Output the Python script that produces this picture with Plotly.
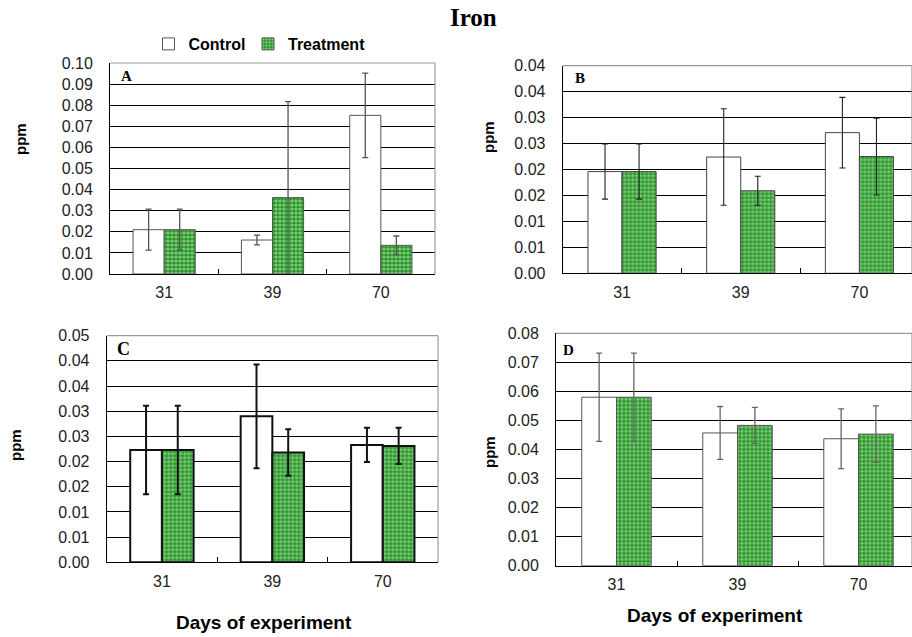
import plotly.graph_objects as go

W, H = 912, 637

days = ["31", "39", "70"]

# Panel A
a_control = [0.0210, 0.0161, 0.0752]
a_control_err = [0.0097, 0.0023, 0.0200]
a_treat = [0.0210, 0.0362, 0.0136]
a_treat_err = [0.0097, 0.0455, 0.0044]
a_treat_err_minus = [0.0097, 0.0362, 0.0044]
a_ticks = [0.00, 0.01, 0.02, 0.03, 0.04, 0.05, 0.06, 0.07, 0.08, 0.09, 0.10]
a_ticktext = ["0.00", "0.01", "0.02", "0.03", "0.04", "0.05", "0.06", "0.07", "0.08", "0.09", "0.10"]

# Panel B
b_control = [0.0196, 0.0224, 0.0271]
b_control_err = [0.0053, 0.0093, 0.0068]
b_treat = [0.0196, 0.0159, 0.0225]
b_treat_err = [0.0053, 0.0028, 0.0074]
b_ticks = [0.000, 0.005, 0.010, 0.015, 0.020, 0.025, 0.030, 0.035, 0.040]
b_ticktext = ["0.00", "0.01", "0.01", "0.02", "0.02", "0.03", "0.03", "0.04", "0.04"]

# Panel C
c_control = [0.0223, 0.0290, 0.0233]
c_control_err = [0.0088, 0.0103, 0.0034]
c_treat = [0.0223, 0.0218, 0.0231]
c_treat_err = [0.0088, 0.0046, 0.0036]
c_ticks = [0.000, 0.005, 0.010, 0.015, 0.020, 0.025, 0.030, 0.035, 0.040, 0.045]
c_ticktext = ["0.00", "0.01", "0.01", "0.02", "0.02", "0.03", "0.03", "0.04", "0.04", "0.05"]

# Panel D
d_control = [0.0580, 0.0457, 0.0437]
d_control_err = [0.0152, 0.0091, 0.0103]
d_treat = [0.0580, 0.0483, 0.0453]
d_treat_err = [0.0152, 0.0062, 0.0097]
d_ticks = [0.00, 0.01, 0.02, 0.03, 0.04, 0.05, 0.06, 0.07, 0.08]
d_ticktext = ["0.00", "0.01", "0.02", "0.03", "0.04", "0.05", "0.06", "0.07", "0.08"]


def px(x):
    return x / W


def py(y):
    return 1 - y / H


GREEN_DARK = "#279827"
GREEN_LIGHT = "#e4f6dc"
SANS = "Arial, Liberation Sans, Helvetica, sans-serif"
SERIF = "Times New Roman, Liberation Serif, serif"

fig = go.Figure()

panels = [
    dict(ax="", ctrl=a_control, ce=a_control_err, cem=a_control_err, trt=a_treat, te=a_treat_err,
         tem=a_treat_err_minus, ticks=a_ticks, tt=a_ticktext, xdom=[px(110), px(435)],
         ydom=[py(274), py(63)], xr=[-0.5, 2.5], ecol="#555555", eth=1.3, lcol="#555555", lw=1,
         legend=True),
    dict(ax="2", ctrl=b_control, ce=b_control_err, cem=b_control_err, trt=b_treat, te=b_treat_err,
         tem=b_treat_err, ticks=b_ticks, tt=b_ticktext, xdom=[px(562.7), 1.0],
         ydom=[py(273.3), py(65.7)], xr=[-0.5, 2.443], ecol="#222222", eth=1.1, lcol="#444444", lw=1,
         legend=False),
    dict(ax="3", ctrl=c_control, ce=c_control_err, cem=c_control_err, trt=c_treat, te=c_treat_err,
         tem=c_treat_err, ticks=c_ticks, tt=c_ticktext, xdom=[px(106.7), px(438)],
         ydom=[py(562.3), py(335.7)], xr=[-0.5, 2.5], ecol="#111111", eth=2, lcol="#111111", lw=2,
         legend=False),
    dict(ax="4", ctrl=d_control, ce=d_control_err, cem=d_control_err, trt=d_treat, te=d_treat_err,
         tem=d_treat_err, ticks=d_ticks, tt=d_ticktext, xdom=[px(556), 1.0],
         ydom=[py(565.7), py(333.3)], xr=[-0.5, 2.442], ecol="#666666", eth=1.3, lcol="#555555", lw=1,
         legend=False),
]

layout_axes = {}
shapes = []
for p in panels:
    xa = "x" + p["ax"]
    ya = "y" + p["ax"]
    fig.add_trace(go.Bar(
        x=days, y=p["ctrl"], name="Control", xaxis=xa, yaxis=ya,
        marker=dict(color="white", line=dict(color=p["lcol"], width=p["lw"])),
        error_y=dict(type="data", array=p["ce"], arrayminus=p["cem"], symmetric=False,
                     color=p["ecol"], thickness=p["eth"], width=3),
        showlegend=p["legend"], legend="legend",
    ))
    fig.add_trace(go.Bar(
        x=days, y=p["trt"], name="Treatment", xaxis=xa, yaxis=ya,
        marker=dict(color=GREEN_DARK, line=dict(color=p["lcol"], width=p["lw"]),
                    pattern=dict(shape=".", fgcolor=GREEN_LIGHT, bgcolor=GREEN_DARK, size=4,
                                 solidity=0.5)),
        error_y=dict(type="data", array=p["te"], arrayminus=p["tem"], symmetric=False,
                     color=p["ecol"], thickness=p["eth"], width=3),
        showlegend=p["legend"], legend="legend2",
    ))
    xkey = "xaxis" + p["ax"]
    ykey = "yaxis" + p["ax"]
    layout_axes[xkey] = dict(
        domain=p["xdom"], anchor=ya, range=p["xr"], type="category", automargin=False,
        showline=True, linecolor="black", linewidth=1,
        ticks="inside", tickson="boundaries", ticklen=5, tickcolor="black", tickwidth=1,
        showgrid=False, zeroline=False,
        tickfont=dict(family=SANS, size=16, color="#222222"),
        ticklabelstandoff=4,
    )
    layout_axes[ykey] = dict(
        domain=p["ydom"], anchor=xa, range=[0, p["ticks"][-1]], automargin=False,
        tickmode="array", tickvals=p["ticks"], ticktext=p["tt"],
        showline=True, linecolor="black", linewidth=1,
        showgrid=True, gridcolor="black", gridwidth=1, zeroline=False,
        ticks="", tickfont=dict(family=SANS, size=16, color="#222222"),
        ticklabelstandoff=13,
    )
    xdomref = xa + " domain"
    ydomref = ya + " domain"
    shapes.append(dict(type="line", xref=xdomref, yref=ydomref, x0=0, x1=1, y0=1, y1=1,
                       line=dict(color="#9a9a9a", width=1.2), layer="above"))
    shapes.append(dict(type="line", xref=xdomref, yref=ydomref, x0=1, x1=1, y0=0, y1=1,
                       line=dict(color="#9a9a9a", width=1.2), layer="above"))


def ann(text, x, y, size, family, angle=0):
    return dict(text=text, x=px(x), y=py(y), xref="paper", yref="paper", showarrow=False,
                xanchor="center", yanchor="middle", textangle=angle,
                font=dict(family=family, size=size, color="black"))


annotations = [
    ann("<b>Iron</b>", 473, 18, 25, SERIF),
    ann("<b>A</b>", 126, 76, 15, SERIF),
    ann("<b>B</b>", 580, 78, 15, SERIF),
    ann("<b>C</b>", 123, 349, 18, SERIF),
    ann("<b>D</b>", 568, 350, 15, SERIF),
]
for (x, y) in [(20, 139), (489, 137), (15, 445), (489, 452)]:
    annotations.append(ann("<b>ppm</b>", x, y, 15, SANS, -90))
for (x, y) in [(264, 622), (715, 615)]:
    annotations.append(ann("<b>Days of experiment</b>", x, y, 19, SANS))

legend_font = dict(family=SANS, size=16, color="black", weight="bold")
fig.update_layout(
    width=W, height=H,
    margin=dict(l=0, r=0, t=0, b=0, autoexpand=False),
    paper_bgcolor="white", plot_bgcolor="white",
    barmode="group", bargap=0.426, bargroupgap=0,
    showlegend=True,
    legend=dict(orientation="h", x=px(148.5), xanchor="left", y=py(44), yanchor="middle",
                font=legend_font, bgcolor="rgba(0,0,0,0)", itemclick=False),
    legend2=dict(orientation="h", x=px(248), xanchor="left", y=py(44), yanchor="middle",
                 font=legend_font, bgcolor="rgba(0,0,0,0)", itemclick=False),
    shapes=shapes,
    annotations=annotations,
    **layout_axes,
)

fig.write_html("out.html")
